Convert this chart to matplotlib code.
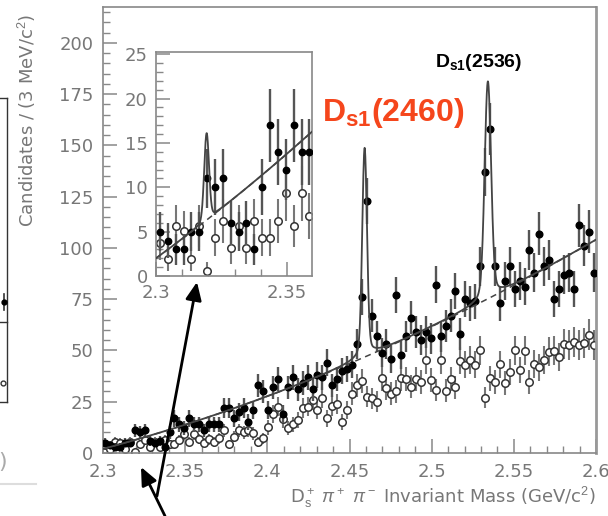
import matplotlib
matplotlib.use("Agg")
import matplotlib.pyplot as plt
import numpy as np
from matplotlib.lines import Line2D
from matplotlib.ticker import MultipleLocator

plt.rcParams["mathtext.fontset"] = "custom"
plt.rcParams["mathtext.rm"] = "Liberation Sans"
plt.rcParams["mathtext.bf"] = "Liberation Sans:bold"
plt.rcParams["mathtext.it"] = "Liberation Sans:italic"

# 3 MeV bins from 2.3 to 2.6 GeV
BIN_LO, BIN_W, N_BINS = 2.3, 0.003, 100
mass = BIN_LO + BIN_W * (np.arange(N_BINS) + 0.5)

# right-sign (filled) candidates per bin
right_sign = [5, 4, 3, 3, 5, 5, 11, 10, 11, 6, 5, 6, 3, 10, 17, 14, 12, 17, 14, 14,
              11, 14, 14, 14, 22, 22, 17, 20, 22, 15, 21, 33, 30, 21, 32, 36, 19, 32, 37, 31,
              34, 37, 31, 38, 37, 44, 33, 36, 40, 41, 43, 53, 76, 123, 67, 57, 49, 53, 46, 77,
              48, 57, 66, 59, 55, 59, 56, 82, 57, 62, 67, 79, 58, 75, 73, 74, 91, 137, 158, 91,
              73, 84, 91, 80, 84, 81, 99, 88, 107, 91, 94, 75, 80, 87, 88, 80, 111, 101, 108, 88]

# wrong-sign (open) candidates per bin
wrong_sign = [3.7, 1.9, 5.6, 5.1, 1.9, 5.6, 0.6, 4.3, 6.2, 3.1, 5.6, 3.1, 6.2, 4.3, 4.3, 6.2, 9.3, 5.6, 9.3, 6.8,
              5.0, 6.7, 5.5, 7.2, 11.0, 4.4, 8.0, 11.0, 10.0, 11.0, 9.6, 5.5, 7.2, 12.5, 19.0, 22.6, 16.4, 12.0, 14.0, 16.0,
              22.0, 22.6, 26.0, 21.0, 27.0, 17.0, 23.0, 24.0, 15.0, 21.0, 29.0, 33.0, 35.0, 27.5, 26.7, 25.0, 36.4, 31.5, 29.0, 30.0,
              36.4, 36.0, 32.4, 36.0, 34.8, 45.4, 35.6, 30.7, 45.4, 30.4, 36.0, 32.0, 45.0, 43.0, 45.4, 43.0, 50.2, 27.0, 36.4, 34.8,
              43.3, 34.0, 39.7, 50.2, 40.5, 49.8, 34.8, 43.4, 41.8, 45.4, 49.4, 49.8, 46.7, 53.0, 52.7, 54.3, 52.7, 53.8, 57.6, 52.7]

# fit: quadratic background in (m - 2.3) plus narrow peaks (gaussian core + lorentzian tail)
bkg_coef = [2.0, 215.0, 416.7]
peak_mass = [2.3193, 2.4592, 2.5342]
peak_core = [9.0, 92.0, 94.0]
peak_sigma = [0.0009, 0.0014, 0.0019]
peak_tail = [0.8, 10.0, 12.0]
peak_hw = [0.0015, 0.0035, 0.004]

N_INSET = 20
GRAY = "#777777"


def background(m):
    t = m - BIN_LO
    return bkg_coef[0] + bkg_coef[1] * t + bkg_coef[2] * t ** 2


def fit_curve(m, peaks):
    y = background(m)
    for k in peaks:
        d = m - peak_mass[k]
        y = y + peak_core[k] * np.exp(-0.5 * (d / peak_sigma[k]) ** 2)
        y = y + peak_tail[k] * peak_hw[k] ** 2 / (d ** 2 + peak_hw[k] ** 2)
    return y


def draw_points(ax, m, rs, ws, ms_f, ms_o):
    rs = np.asarray(rs, float)
    ws = np.asarray(ws, float)
    ax.errorbar(m, ws, yerr=np.sqrt(np.maximum(ws, 1)), fmt="o", ms=ms_o,
                mfc="white", mec="#333333", mew=1.1, ecolor="#777777",
                elinewidth=1.5, capsize=0, zorder=2)
    ax.errorbar(m, rs, yerr=np.sqrt(rs), fmt="o", ms=ms_f, color="black",
                ecolor="#555555", elinewidth=1.7, capsize=0, zorder=3)


def style_axes(ax, major_len, minor_len, pad):
    for sp in ax.spines.values():
        sp.set_color("#888888")
        sp.set_linewidth(1.2)
    ax.tick_params(which="both", direction="in", colors="#888888",
                   labelcolor=GRAY, labelsize=13, top=False, right=False, pad=pad)
    ax.tick_params(which="major", length=major_len, width=1.1)
    ax.tick_params(which="minor", length=minor_len, width=1.0)


fig = plt.figure(figsize=(6.08, 5.16), dpi=100)
W, H = 608.0, 516.0

# main axes
ax = fig.add_axes([103 / W, 1 - 453 / H, 493 / W, 446 / H])
draw_points(ax, mass, right_sign, wrong_sign, 4.8, 5.4)
mm = np.linspace(2.3, 2.6, 4000)
ax.plot(mm, background(mm), color="#444444", lw=1.1, ls=(0, (4, 3)), zorder=4)
ax.plot(mm, fit_curve(mm, [1, 2]), color="#444444", lw=1.3, zorder=5)
ax.set_xlim(2.3, 2.6)
ax.set_ylim(0, 217.5)
ax.xaxis.set_major_locator(MultipleLocator(0.05))
ax.xaxis.set_minor_locator(MultipleLocator(0.01))
ax.yaxis.set_major_locator(MultipleLocator(25))
ax.yaxis.set_minor_locator(MultipleLocator(5))
ax.xaxis.set_major_formatter(matplotlib.ticker.FuncFormatter(lambda v, p: f"{v:g}"))
style_axes(ax, 10, 5, 7)
ax.spines["right"].set_linewidth(2.0)
ax.spines["right"].set_color("#999999")

ax.set_ylabel("Candidates / (3 MeV/c$^2$)", color=GRAY, fontsize=13)
ax.yaxis.set_label_coords(-0.132, 0.745)
ax.set_xlabel(r"D$_\mathrm{s}^+$ $\pi^+$ $\pi^-$ Invariant Mass (GeV/c$^2$)",
              color=GRAY, fontsize=13, loc="right")
ax.xaxis.set_label_coords(1.0, -0.072)

ax.text(2.4331, 162, r"D$_{\mathbf{s1}}$(2460)", color="#f5461c", fontsize=23,
        fontweight="bold", family="Liberation Sans", va="baseline", ha="left")
ax.text(2.502, 188, r"D$_{\mathbf{s1}}$(2536)", color="black", fontsize=14,
        fontweight="bold", family="Liberation Sans", va="baseline", ha="left")

# inset zoom of the threshold region
axin = fig.add_axes([156 / W, 1 - 276 / H, 156 / W, 224 / H])
draw_points(axin, mass[:N_INSET], right_sign[:N_INSET], wrong_sign[:N_INSET], 4.6, 5.4)
mi = np.linspace(2.3, 2.3595, 2000)
axin.plot(mi, background(mi), color="#444444", lw=1.1, ls=(0, (4, 3)), zorder=4)
axin.plot(mi, fit_curve(mi, [0]), color="#444444", lw=1.3, zorder=5)
axin.set_xlim(2.3, 2.3595)
axin.set_ylim(0, 25.25)
axin.xaxis.set_major_locator(MultipleLocator(0.05))
axin.xaxis.set_minor_locator(MultipleLocator(0.01))
axin.yaxis.set_major_locator(MultipleLocator(5))
axin.yaxis.set_minor_locator(MultipleLocator(1))
axin.xaxis.set_major_formatter(matplotlib.ticker.FuncFormatter(lambda v, p: f"{v:g}"))
style_axes(axin, 10, 5, 6)

# arrows pointing at the threshold region
arrow_kw = dict(arrowstyle="-|>,head_length=0.9,head_width=0.4", color="black",
                lw=2.0, mutation_scale=12, shrinkA=0, shrinkB=0)
fig.add_artist(matplotlib.patches.FancyArrowPatch((157, 20), (197, 234),
                                                  transform=None, **arrow_kw))
fig.add_artist(matplotlib.patches.FancyArrowPatch((165, 0), (141, 49),
                                                  transform=None, **arrow_kw))

# edge of the neighbouring panel at the far left
fr = fig.transFigure
for xs, ys in [([0, 6.5 / W], [1 - 98 / H] * 2), ([6.5 / W] * 2, [1 - 98 / H, 1 - 402 / H]),
               ([0, 6.5 / W], [1 - 402 / H] * 2), ([0, 6.5 / W], [1 - 322 / H] * 2)]:
    fig.add_artist(Line2D(xs, ys, transform=fr, color="#333333", lw=1.0))
fig.add_artist(Line2D([4 / W] * 2, [1 - 294 / H, 1 - 310 / H], transform=fr, color="#333333", lw=1.2))
fig.add_artist(Line2D([4 / W], [1 - 302 / H], transform=fr, marker="o", ms=3.5, color="black"))
fig.add_artist(Line2D([3 / W], [1 - 383 / H], transform=fr, marker="o", ms=3.5,
                      mfc="white", mec="#333333"))
fig.add_artist(Line2D([0, 36 / W], [1 - 484 / H] * 2, transform=fr, color="#dddddd", lw=1.5))
fig.text(-2 / W, 1 - 462 / H, ")", color="#aaaaaa", fontsize=16, va="center", ha="left")

fig.savefig("out.png", dpi=100)
